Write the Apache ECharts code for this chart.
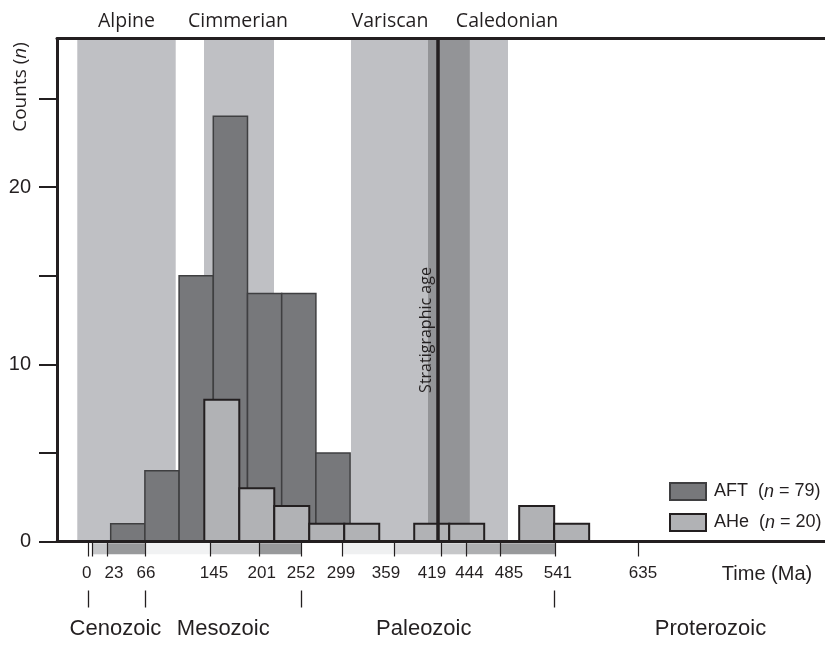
<!DOCTYPE html>
<html>
<head>
<meta charset="utf-8">
<script src="https://cdn.jsdelivr.net/npm/echarts@6/dist/echarts.min.js"></script>
<style>
  html, body { margin: 0; padding: 0; background: #fff; }
  #chart { width: 825px; height: 646px; }
</style>
</head>
<body>
<div id="chart"></div>
<script>
// x runs in AFT histogram-bin units: the time axis of the figure is schematic, not linear in Ma
const aftCounts = [1, 4, 15, 24, 14, 14, 5, 0, 0, 1];
const aheStart = 2.737;
const aheWidth = 1.023;
const aheCounts = [8, 3, 2, 1, 1, 0, 1, 1, 0, 2, 1];
const seriesNames = ['AFT', 'AHe'];
const sampleSizes = [79, 20];

const tickPos = [-0.655, -0.538, -0.099, 1.012, 2.912, 4.345, 5.585, 6.772, 8.292, 9.678, 10.409, 11.392, 12.991, 15.427];
const tickLabels = ['0', '23', '66', '145', '201', '252', '299', '359', '419', '444', '485', '541', '635'];
const tickLabelPos = [-0.702, 0.096, 1.032, 3.020, 4.415, 5.564, 6.734, 8.050, 9.395, 10.491, 11.646, 13.076, 15.564];

const periods = ['Neogene', 'Paleogene', 'Cretaceous', 'Jurassic', 'Triassic', 'Permian',
  'Carboniferous', 'Devonian', 'Silurian', 'Ordovician', 'Cambrian'];
const periodEdges = [-0.538, -0.099, 1.012, 2.912, 4.345, 5.585, 6.772, 8.292, 9.678, 10.409, 11.392, 12.991];

const eras = ['Cenozoic', 'Mesozoic', 'Paleozoic', 'Proterozoic'];
const eraBounds = [-0.655, 1.012, 5.573, 12.971];
const eraLabelPos = [0.140, 3.292, 9.155, 17.538];

const orogenies = ['Alpine', 'Cimmerian', 'Variscan', 'Caledonian'];
const orogenyRanges = [[-0.977, 1.901], [2.728, 4.775], [7.026, 10.500], [9.278, 11.617]];
const orogenyLabelPos = [0.462, 3.722, 8.167, 11.588];

const stratAge = 9.570;
const yTicks = [0, 5, 10, 15, 20, 25];
const yLabels = [0, 10, 20];

const xMin = -1.570, xMax = 20.886, yMax = 28.39;

const ink = '#231f20';
const periodColor = {
    Neogene: '#c6c7c9', Paleogene: '#98999b', Cretaceous: '#f1f2f3', Jurassic: '#c6c7c9',
    Triassic: '#98999b', Permian: '#ffffff', Carboniferous: '#eff0f1', Devonian: '#dadadc',
    Silurian: '#c6c7c9', Ordovician: '#aeafb1', Cambrian: '#98999b'
};

function pick(values, labels) {
    return function (v) {
        let best = 0;
        values.forEach((p, i) => { if (Math.abs(p - v) < Math.abs(values[best] - v)) best = i; });
        return labels[best];
    };
}

// bands + their overlaps (overlap drawn darker)
let bandData = orogenyRanges.map(r => [r[0], r[1], 0]);
for (let i = 0; i < orogenyRanges.length; i++) {
    for (let j = i + 1; j < orogenyRanges.length; j++) {
        let lo = Math.max(orogenyRanges[i][0], orogenyRanges[j][0]);
        let hi = Math.min(orogenyRanges[i][1], orogenyRanges[j][1]);
        if (lo < hi) bandData.push([lo, hi, 1]);
    }
}

let aftData = aftCounts.map((c, i) => [i, i + 1, c]).filter(d => d[2] > 0);
let aheData = aheCounts.map((c, i) => [aheStart + i * aheWidth, aheStart + (i + 1) * aheWidth, c]).filter(d => d[2] > 0);
let periodData = periods.map((p, i) => [periodEdges[i], periodEdges[i + 1], i]);

function barRenderer(fill, stroke, width) {
    return function (params, api) {
        let p0 = api.coord([api.value(0), api.value(2)]);
        let p1 = api.coord([api.value(1), 0]);
        return {
            type: 'rect',
            shape: { x: p0[0], y: p0[1], width: p1[0] - p0[0], height: p1[1] - p0[1] },
            style: { fill: fill, stroke: stroke, lineWidth: width }
        };
    };
}

let chart = echarts.init(document.getElementById('chart'));

let option = {
    animation: false,
    grid: { left: 57, right: 0, top: 38.5, bottom: 104.5 },
    xAxis: [
        {
            type: 'value', min: xMin, max: xMax, position: 'bottom', z: 5,
            splitLine: { show: false },
            axisLine: { lineStyle: { color: ink, width: 3 } },
            axisTick: { customValues: tickPos, length: 15, lineStyle: { color: ink, width: 1.2 } },
            axisLabel: {
                customValues: tickLabelPos, formatter: pick(tickLabelPos, tickLabels),
                margin: 23, fontFamily: 'Liberation Sans', fontSize: 17, color: ink
            }
        },
        {
            type: 'value', min: xMin, max: xMax, position: 'bottom', offset: 49,
            splitLine: { show: false },
            axisLine: { show: false },
            axisTick: { show: true, customValues: eraBounds, length: 17, lineStyle: { color: ink, width: 1.3 } },
            axisLabel: {
                customValues: eraLabelPos, formatter: pick(eraLabelPos, eras),
                margin: 27, fontFamily: 'Liberation Sans', fontSize: 22, color: ink
            }
        },
        {
            type: 'value', min: xMin, max: xMax, position: 'top', z: 5,
            splitLine: { show: false },
            axisLine: { lineStyle: { color: ink, width: 3 } },
            axisTick: { show: false },
            axisLabel: {
                customValues: orogenyLabelPos, formatter: pick(orogenyLabelPos, orogenies),
                margin: 7, fontFamily: 'Open Sans', fontSize: 19.5, color: ink
            }
        }
    ],
    yAxis: {
        type: 'value', min: 0, max: yMax, z: 5,
        splitLine: { show: false },
        axisLine: { show: true, onZero: false, lineStyle: { color: ink, width: 3 } },
        axisTick: { show: true, customValues: yTicks, length: 18, lineStyle: { color: ink, width: 2 } },
        axisLabel: { customValues: yLabels, margin: 26, fontFamily: 'Liberation Sans', fontSize: 20, color: ink }
    },
    legend: {
        orient: 'vertical', left: 664, top: 477,
        itemWidth: 36, itemHeight: 17, itemGap: 12,
        icon: 'rect', selectedMode: false,
        data: seriesNames,
        formatter: name => name + '  ({i|n} = ' + sampleSizes[seriesNames.indexOf(name)] + ')',
        textStyle: {
            fontFamily: 'Liberation Sans', fontSize: 18, color: ink, padding: [0, 0, 0, 3],
            rich: { i: { fontFamily: 'Liberation Sans', fontStyle: 'italic', fontSize: 18, color: ink } }
        }
    },
    graphic: [
        {
            type: 'text', x: 21, y: 87, rotation: Math.PI / 2,
            style: {
                text: 'Counts ({i|n})', align: 'center', verticalAlign: 'middle',
                fontFamily: 'Open Sans', fontSize: 19, fill: ink,
                rich: { i: { fontFamily: 'Open Sans', fontStyle: 'italic', fontSize: 19, fill: ink } }
            }
        },
        {
            type: 'text', x: 767, y: 574,
            style: {
                text: 'Time (Ma)', align: 'center', verticalAlign: 'middle',
                fontFamily: 'Liberation Sans', fontSize: 20, fill: ink
            }
        }
    ],
    series: [
        {
            name: 'bands', type: 'custom', z: 1, silent: true,
            data: bandData,
            renderItem: function (params, api) {
                let p0 = api.coord([api.value(0), yMax]);
                let p1 = api.coord([api.value(1), 0]);
                return {
                    type: 'rect',
                    shape: { x: p0[0], y: p0[1], width: p1[0] - p0[0], height: p1[1] - p0[1] },
                    style: { fill: api.value(2) ? '#939497' : '#bfc0c4' }
                };
            }
        },
        {
            name: 'periods', type: 'custom', z: 1, silent: true,
            data: periodData,
            renderItem: function (params, api) {
                let p0 = api.coord([api.value(0), 0]);
                let p1 = api.coord([api.value(1), 0]);
                return {
                    type: 'rect',
                    shape: { x: p0[0], y: p0[1] + 1.8, width: p1[0] - p0[0], height: 11 },
                    style: { fill: periodColor[periods[api.value(2)]] }
                };
            }
        },
        {
            name: 'strat', type: 'line', z: 2, data: [], silent: true,
            markLine: {
                silent: true, symbol: ['none', 'none'], animation: false,
                lineStyle: { color: ink, width: 3.5, type: 'solid' },
                label: {
                    show: true, position: 'insideMiddleTop', formatter: 'Stratigraphic age',
                    fontFamily: 'Open Sans', fontSize: 16, color: ink, distance: 4,
                    padding: [0, 80, 0, 0]
                },
                data: [{ xAxis: stratAge }]
            }
        },
        {
            name: 'AFT', type: 'custom', z: 3,
            itemStyle: { color: '#77787b', borderColor: '#3f3f41', borderWidth: 1.5 },
            data: aftData,
            renderItem: barRenderer('#77787b', '#3f3f41', 1.5)
        },
        {
            name: 'AHe', type: 'custom', z: 4,
            itemStyle: { color: '#b1b2b5', borderColor: ink, borderWidth: 2 },
            data: aheData,
            renderItem: barRenderer('#b1b2b5', ink, 2)
        }
    ]
};

chart.setOption(option);
</script>
</body>
</html>
